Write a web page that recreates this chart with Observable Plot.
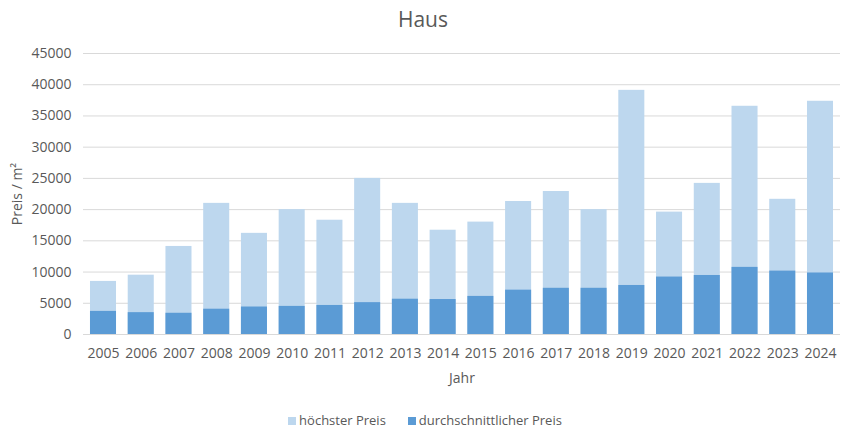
<!DOCTYPE html>
<html>
<head>
<meta charset="utf-8">
<script src="https://cdn.jsdelivr.net/npm/d3@7"></script>
<script src="https://cdn.jsdelivr.net/npm/@observablehq/plot@0.6"></script>
<style>
  body { margin: 0; background: #fff; font-family: "Open Sans", sans-serif; }
  #wrap { width: 846px; }
  #title { height: 40px; line-height: 38px; text-align: center; font-size: 21px; color: #595959; }
  #legend { height: 40px; display: flex; justify-content: center; align-items: center; gap: 22px; font-size: 13px; color: #595959; padding-left: 4px; }
  .sw { display: inline-block; width: 8px; height: 8px; margin-right: 3px; vertical-align: middle; position: relative; top: -1px; }
</style>
</head>
<body>
<div id="wrap">
  <div id="title">Haus</div>
  <div id="chart"></div>
  <div id="legend"></div>
</div>
<script>
const years = ["2005","2006","2007","2008","2009","2010","2011","2012","2013","2014","2015","2016","2017","2018","2019","2020","2021","2022","2023","2024"];
const hoechsterPreis = [8500, 9500, 14100, 21000, 16200, 20000, 18300, 25000, 21000, 16700, 18000, 21300, 22900, 20000, 39100, 19600, 24200, 36550, 21650, 37350];
const durchschnittPreis = [3700, 3500, 3400, 4050, 4400, 4500, 4650, 5100, 5650, 5600, 6100, 7100, 7400, 7400, 7850, 9200, 9450, 10750, 10150, 9850];
const yTicks = [0, 5000, 10000, 15000, 20000, 25000, 30000, 35000, 40000, 45000];
const seriesNames = ["höchster Preis", "durchschnittlicher Preis"];
const colors = ["#bdd7ee", "#5b9bd5"];

const hi = years.map((j, i) => ({jahr: j, wert: hoechsterPreis[i]}));
const avg = years.map((j, i) => ({jahr: j, wert: durchschnittPreis[i]}));

const chart = Plot.plot({
  width: 846,
  height: 360,
  marginTop: 13,
  marginLeft: 83,
  marginRight: 6,
  marginBottom: 66,
  style: {fontFamily: "Open Sans, sans-serif", fontSize: "14px", color: "#595959", background: "#fff"},
  x: {type: "band", domain: years, paddingInner: 0.31, paddingOuter: 0.185, round: false, label: null},
  y: {domain: [0, 45000], ticks: yTicks, label: null},
  marks: [
    Plot.gridY(yTicks, {stroke: "#d9d9d9", strokeOpacity: 1}),
    Plot.barY(hi, {x: "jahr", y: "wert", fill: colors[0]}),
    Plot.barY(avg, {x: "jahr", y: "wert", fill: colors[1]}),
    Plot.ruleY([0], {stroke: "#d9d9d9"}),
    Plot.axisY(yTicks, {tickSize: 0, tickPadding: 12, tickFormat: d => String(d), label: "Preis / m²", labelAnchor: "center", labelArrow: "none", labelOffset: 71, fontSize: 14}),
    Plot.axisX({tickSize: 0, tickPadding: 14, label: "Jahr", labelAnchor: "center", labelArrow: "none", labelOffset: 48, fontSize: 14})
  ]
});
document.getElementById("chart").appendChild(chart);

const legend = document.getElementById("legend");
seriesNames.forEach((n, i) => {
  const s = document.createElement("span");
  s.innerHTML = `<span class="sw" style="background:${colors[i]}"></span>${n}`;
  legend.appendChild(s);
});
</script>
</body>
</html>
